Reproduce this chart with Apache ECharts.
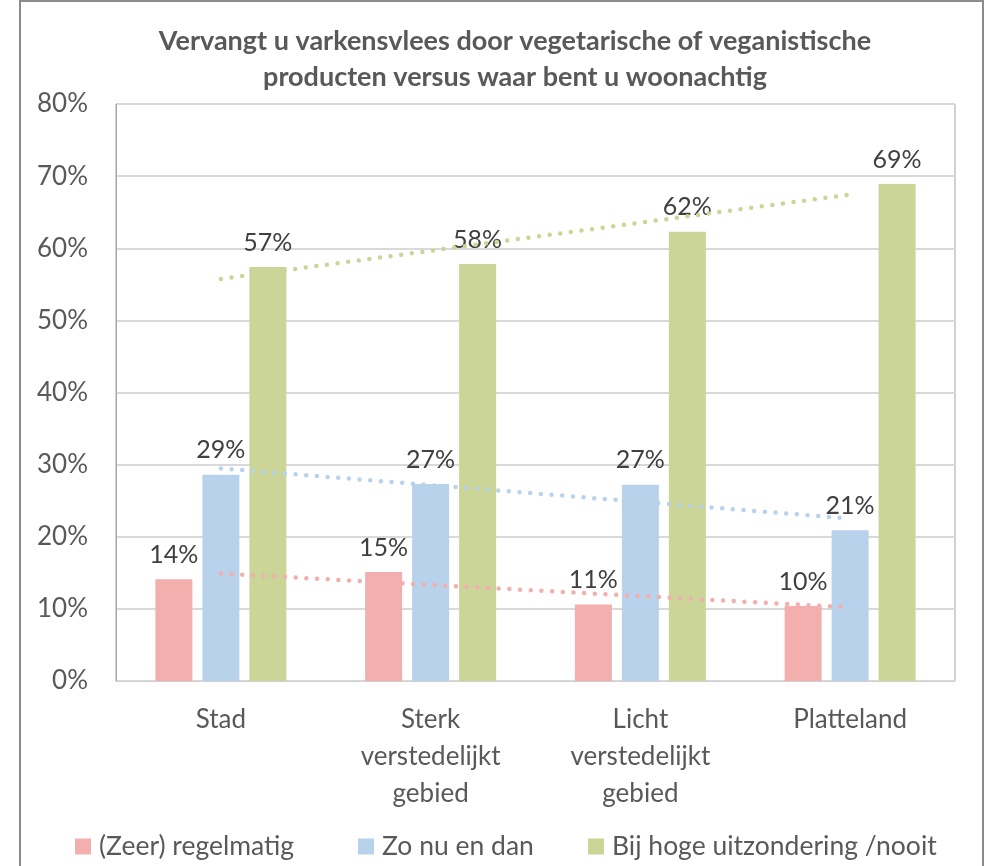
<!DOCTYPE html>
<html>
<head>
<meta charset="utf-8">
<script src="https://cdn.jsdelivr.net/npm/echarts@6/dist/echarts.min.js"></script>
<style>
  html, body { margin: 0; padding: 0; background: #fff; }
  #chart { width: 986px; height: 866px; }
</style>
</head>
<body>
<div id="chart"></div>
<script>
// categorieen en waarden (in %)
var categories = ["Stad", "Sterk\nverstedelijkt\ngebied", "Licht\nverstedelijkt\ngebied", "Platteland"];
var regelmatig = [14.1, 15.1, 10.6, 10.4];
var nuEnDan = [28.6, 27.3, 27.2, 20.9];
var nooit = [57.4, 57.8, 62.3, 68.9];
var seriesNames = ["(Zeer) regelmatig", "Zo nu en dan", "Bij hoge uitzondering /nooit"];
var colors = ["#F2AFAE", "#B8D2EB", "#CAD597"];

// lineaire trendlijn, zoals Excel die tekent
function trend(values) {
  var n = values.length, mx = (n - 1) / 2, my = 0, sxy = 0, sxx = 0;
  values.forEach(function (v) { my += v / n; });
  values.forEach(function (v, i) { sxy += (i - mx) * (v - my); sxx += (i - mx) * (i - mx); });
  var slope = sxy / sxx;
  return values.map(function (v, i) { return +(my + slope * (i - mx)).toFixed(2); });
}

var font = "Lato, 'Open Sans', sans-serif";
var chart = echarts.init(document.getElementById("chart"));

function barSeries(name, data, color) {
  return {
    name: name,
    type: "bar",
    barWidth: 37,
    barGap: "27%",
    itemStyle: { color: color },
    label: {
      show: true,
      position: "top",
      distance: 12,
      color: "#404040",
      fontSize: 25,
      fontFamily: font,
      formatter: function (p) { return Math.round(p.value) + "%"; }
    },
    data: data,
    z: 2
  };
}

function trendSeries(name, data, color) {
  return {
    name: name + " trend",
    type: "line",
    symbol: "none",
    silent: true,
    lineStyle: { color: color, width: 4.5, type: [0, 10.7], cap: "round" },
    data: trend(data),
    z: 3
  };
}

function legendItem(name, left) {
  return {
    data: [name],
    top: 833,
    left: left,
    itemWidth: 16,
    itemHeight: 16,
    icon: "rect",
    padding: 0,
    textStyle: { color: "#595959", fontSize: 26.5, fontFamily: font, padding: [0, 0, 0, 3] }
  };
}

chart.setOption({
  animation: false,
  title: {
    text: "Vervangt u varkensvlees door vegetarische of veganistische\nproducten versus waar bent u woonachtig",
    left: 510,
    textAlign: "center",
    top: 18,
    textStyle: {
      color: "#595959",
      fontSize: 27,
      fontWeight: "bold",
      fontFamily: font,
      lineHeight: 36
    }
  },
  graphic: [{
    type: "rect",
    shape: { x: 20, y: 1, width: 963, height: 880 },
    style: { fill: "none", stroke: "#8c8c8c", lineWidth: 2 },
    silent: true
  }],
  legend: [
    legendItem(seriesNames[0], 75),
    legendItem(seriesNames[1], 358),
    legendItem(seriesNames[2], 588)
  ],
  grid: {
    left: 116,
    right: 31,
    top: 104,
    bottom: 185,
    show: true,
    borderColor: "#a6a6a6",
    borderWidth: 1
  },
  xAxis: {
    type: "category",
    data: categories,
    axisTick: { show: false },
    axisLine: { lineStyle: { color: "#d0d0d0", width: 1 } },
    axisLabel: {
      color: "#595959",
      fontSize: 26,
      fontFamily: font,
      lineHeight: 37,
      margin: 20
    }
  },
  yAxis: {
    type: "value",
    min: 0,
    max: 80,
    interval: 10,
    axisLine: { show: true, lineStyle: { color: "#a6a6a6" } },
    axisTick: { show: false },
    splitLine: { lineStyle: { color: "#d9d9d9", width: 2 } },
    axisLabel: {
      color: "#595959",
      fontSize: 26,
      fontFamily: font,
      margin: 28,
      formatter: "{value}%"
    }
  },
  series: [
    barSeries(seriesNames[0], regelmatig, colors[0]),
    barSeries(seriesNames[1], nuEnDan, colors[1]),
    barSeries(seriesNames[2], nooit, colors[2]),
    trendSeries(seriesNames[0], regelmatig, colors[0]),
    trendSeries(seriesNames[1], nuEnDan, colors[1]),
    trendSeries(seriesNames[2], nooit, colors[2])
  ]
});
</script>
</body>
</html>
